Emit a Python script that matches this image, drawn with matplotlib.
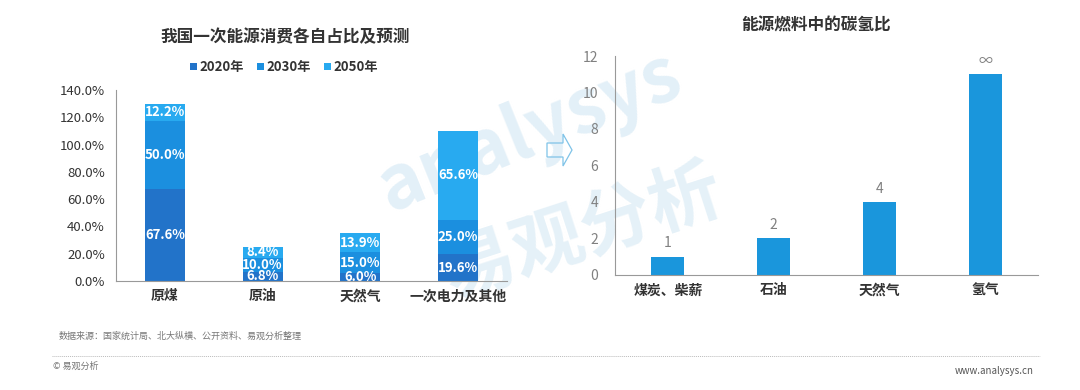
import numpy as np
import matplotlib.pyplot as plt
from matplotlib.patches import Polygon
from matplotlib.lines import Line2D

plt.rcParams['font.family'] = ['Noto Sans CJK SC', 'DejaVu Sans']

## data
energyCats = ['原煤', '原油', '天然气', '一次电力及其他']
years = ['2020年', '2030年', '2050年']
share2020 = [67.6, 6.8, 6.0, 19.6]
share2030 = [50.0, 10.0, 15.0, 25.0]
share2050 = [12.2, 8.4, 13.9, 65.6]
yearColors = ['#2273c9', '#1b8fdf', '#28aaf0']

fuelCats = ['煤炭、柴薪', '石油', '天然气', '氢气']
chRatio = [1, 2, 4, 11]
chLabels = ['1', '2', '4', '∞']

fig = plt.figure(figsize=(10.8, 3.9), dpi=100)

# faint watermark, kept behind the axes
fig.text(0.49, 0.66, 'analysys', fontsize=54, color='#e3f0f8', rotation=22,
         ha='center', va='center', fontweight='bold', style='italic', zorder=-1)
fig.text(0.54, 0.40, '易观分析', fontsize=52, color='#e5f1f8', rotation=18,
         ha='center', va='center', fontweight='bold', zorder=-1)

## left chart: stacked shares
axL = fig.add_axes([0.1074, 0.2795, 0.362, 0.4897])
axL.patch.set_alpha(0)
x = np.arange(len(energyCats))
series = [share2020, share2030, share2050]
bottom = np.zeros(len(energyCats))
for vals, col, yr in zip(series, yearColors, years):
    vals = np.array(vals)
    axL.bar(x, vals, width=0.41, bottom=bottom, color=col, label=yr, zorder=2)
    for xi, b, v in zip(x, bottom, vals):
        axL.text(xi, b + v / 2, f'{v:.1f}%', ha='center', va='center',
                 color='white', fontsize=9.5, fontweight='bold', zorder=3)
    bottom = bottom + vals

axL.set_xlim(-0.5, 3.5)
axL.set_ylim(0, 140)
axL.set_yticks(np.arange(0, 141, 20))
axL.set_yticklabels([f'{v:.1f}%' for v in np.arange(0, 141, 20)])
axL.set_xticks(x)
axL.set_xticklabels(energyCats, fontsize=10, fontweight='bold', color='#333333')
axL.tick_params(axis='y', length=0, labelsize=9.5, labelcolor='#333333', pad=8)
axL.tick_params(axis='x', length=0, pad=6)
for s in ['top', 'right']:
    axL.spines[s].set_visible(False)
for s in ['left', 'bottom']:
    axL.spines[s].set_color('#999999')
    axL.spines[s].set_linewidth(0.8)
axL.legend(loc='lower center', bbox_to_anchor=(0.43, 1.02), ncol=3, frameon=False,
           handlelength=0.5, handleheight=0.5, handletextpad=0.2, columnspacing=1.0,
           prop={'size': 9.5, 'weight': 'bold'}, labelcolor='#333333')
fig.text(0.264, 0.905, '我国一次能源消费各自占比及预测', ha='center', va='center',
         fontsize=12, fontweight='bold', color='#333333')

## right chart: carbon-hydrogen ratio
axR = fig.add_axes([0.5694, 0.2949, 0.3917, 0.5615])
axR.patch.set_alpha(0)
xr = np.arange(len(fuelCats))
axR.bar(xr, chRatio, width=0.31, color='#1a96dc', zorder=2)
for xi, v, lab in zip(xr, chRatio, chLabels):
    axR.text(xi, v + 0.35, lab, ha='center', va='bottom', fontsize=10, color='#808080')
axR.set_xlim(-0.5, 3.5)
axR.set_ylim(0, 12)
axR.set_yticks(np.arange(0, 13, 2))
axR.set_xticks(xr)
axR.set_xticklabels(fuelCats, fontsize=10, fontweight='bold', color='#333333')
axR.tick_params(axis='y', length=0, labelsize=10, labelcolor='#808080', pad=12)
axR.tick_params(axis='x', length=0, pad=6)
for s in ['top', 'right']:
    axR.spines[s].set_visible(False)
for s in ['left', 'bottom']:
    axR.spines[s].set_color('#999999')
    axR.spines[s].set_linewidth(0.8)
fig.text(0.756, 0.935, '能源燃料中的碳氢比', ha='center', va='center',
         fontsize=12, fontweight='bold', color='#333333')

# hollow arrow between the charts
arrowPts = [(547, 143), (563, 143), (563, 134), (572, 150), (563, 166), (563, 157), (547, 157)]
arrowPts = [(px / 1080, 1 - py / 390) for px, py in arrowPts]
fig.patches.append(Polygon(arrowPts, closed=True, fill=False, edgecolor='#7fc3e8',
                           linewidth=0.9, transform=fig.transFigure))

## footer
fig.text(0.054, 0.137, '数据来源：国家统计局、北大纵横、公开资料、易观分析整理',
         fontsize=6.5, color='#777777', va='center')
fig.lines.append(Line2D([0.048, 0.963], [0.088, 0.088], transform=fig.transFigure,
                        color='#bbbbbb', linewidth=0.7, linestyle=(0, (1, 1))))
fig.text(0.049, 0.06, '© 易观分析', fontsize=6.5, color='#777777', va='center')
fig.text(0.957, 0.05, 'www.analysys.cn', fontsize=7, color='#555555', va='center', ha='right')

fig.savefig('out.png', dpi=100)
